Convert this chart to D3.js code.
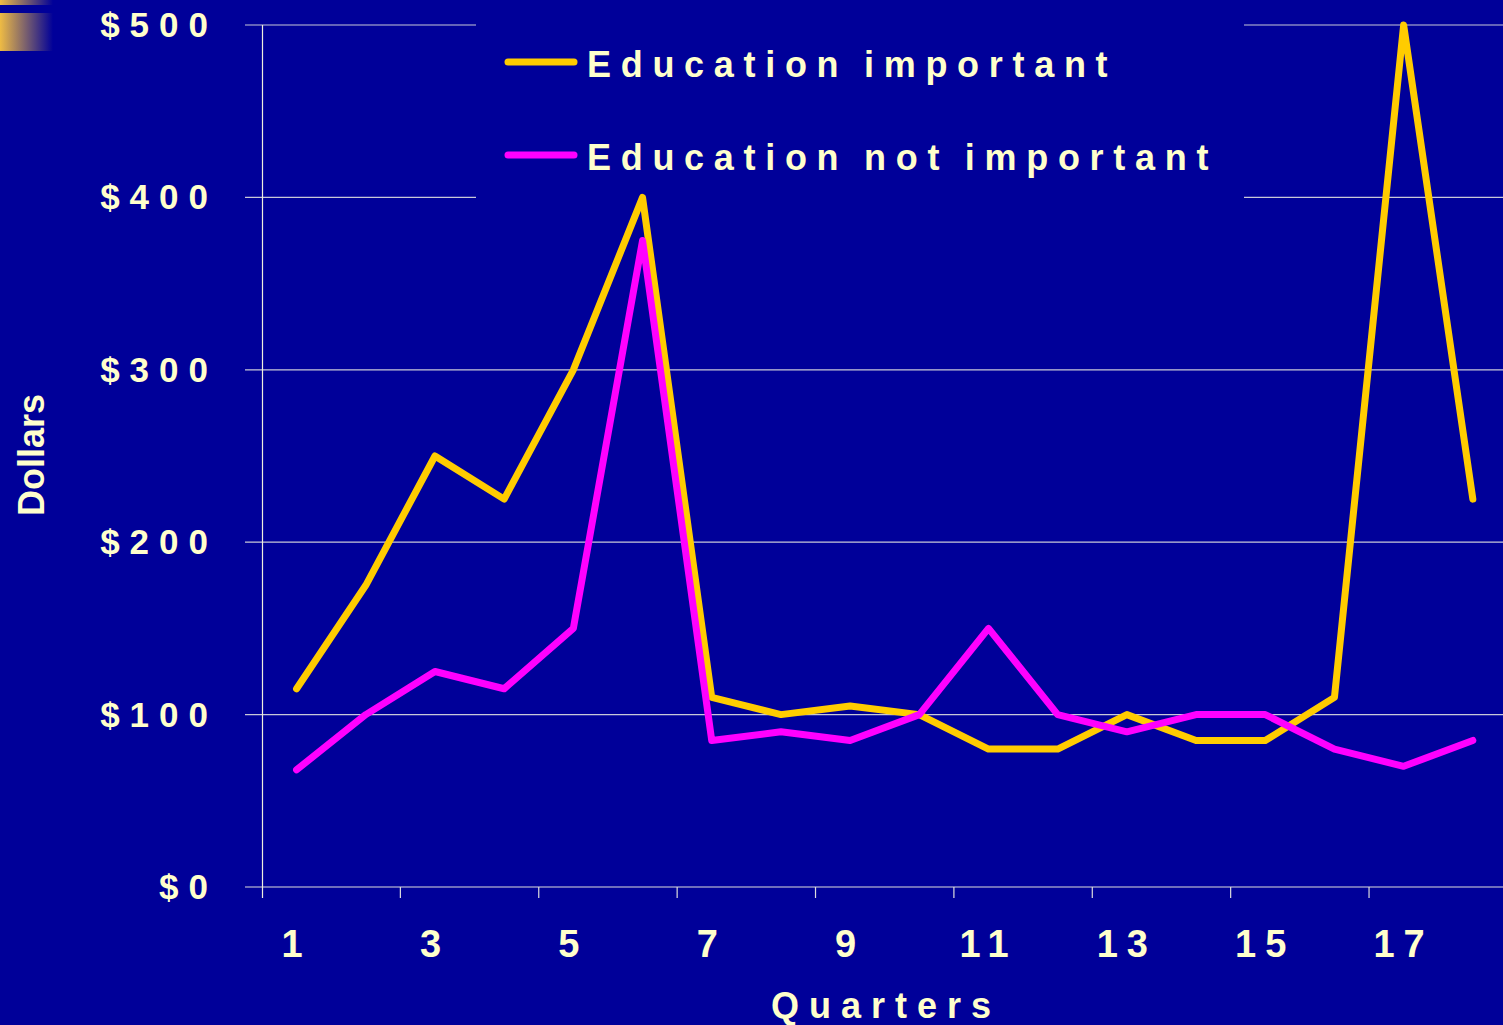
<!DOCTYPE html>
<html>
<head>
    <title>Education spending by quarter</title>
    <script src="https://d3js.org/d3.v7.min.js"></script>
    <style>
        body { margin: 0; background: #000099; overflow: hidden; }
        text { font-family: Arial, "Liberation Sans", sans-serif; font-weight: bold; fill: #FFFFCC; }
    </style>
</head>
<body>
    <script>
    // data
    let quarters = d3.range(1, 19);
    let tickLabels = [1, 3, 5, 7, 9, 11, 13, 15, 17];
    let yTicks = [0, 100, 200, 300, 400, 500];
    let eduImportant = [115, 175, 250, 225, 300, 400, 110, 100, 105, 100, 80, 80, 100, 85, 85, 110, 500, 225];
    let eduNotImportant = [68, 100, 125, 115, 150, 375, 85, 90, 85, 100, 150, 100, 90, 100, 100, 80, 70, 85];
    let seriesNames = ["Education important", "Education not important"];
    let seriesColors = ["#FFCC00", "#FF00FF"];

    let width = 1503,
        height = 1025;

    let svg = d3.select("body")
        .append("svg")
        .attr("width", width)
        .attr("height", height);

    // little gradient decoration in the top-left corner
    let defs = svg.append("defs");
    let grad = defs.append("linearGradient").attr("id", "corner");
    grad.append("stop").attr("offset", "0%").attr("stop-color", "#EEBB44");
    grad.append("stop").attr("offset", "100%").attr("stop-color", "#000099");
    svg.append("rect").attr("x", 0).attr("y", 0).attr("width", 53).attr("height", 5).attr("fill", "url(#corner)");
    svg.append("rect").attr("x", 0).attr("y", 13).attr("width", 53).attr("height", 38).attr("fill", "url(#corner)");

    let x = d3.scaleBand()
        .domain(quarters)
        .range([262, 262 + 18 * 69.19]);

    let y = d3.scaleLinear()
        .domain([0, 500])
        .range([887, 25]);

    // gridlines
    svg.append("g")
        .selectAll("line")
        .data(yTicks)
        .enter()
        .append("line")
        .attr("x1", 245)
        .attr("x2", width)
        .attr("y1", d => y(d))
        .attr("y2", d => y(d))
        .attr("stroke", d => d === 0 ? "#dddddd" : "#c8c8d8")
        .attr("stroke-width", 1.2);

    // y axis line
    svg.append("line")
        .attr("x1", 262.5).attr("x2", 262.5)
        .attr("y1", y(500)).attr("y2", 898)
        .attr("stroke", "#eeeedd")
        .attr("stroke-width", 1.2);

    // x ticks every two quarters
    let tickPos = quarters.filter((q, i) => i % 2 === 0).map(q => x(q));
    svg.append("g")
        .selectAll("line")
        .data(tickPos.slice(1))
        .enter()
        .append("line")
        .attr("x1", d => d)
        .attr("x2", d => d)
        .attr("y1", 887)
        .attr("y2", 898)
        .attr("stroke", "#dddddd")
        .attr("stroke-width", 1.2);

    // y labels
    svg.append("g")
        .selectAll("text")
        .data(yTicks)
        .enter()
        .append("text")
        .attr("x", 218)
        .attr("y", d => y(d) + 12)
        .attr("text-anchor", "end")
        .style("font-size", "35px")
        .style("letter-spacing", "10px")
        .text(d => "$" + d);

    // x labels
    svg.append("g")
        .selectAll("text")
        .data(tickLabels)
        .enter()
        .append("text")
        .attr("x", d => x(d) + x.bandwidth() / 2)
        .attr("y", 957)
        .attr("text-anchor", "middle")
        .style("font-size", "38px")
        .style("letter-spacing", "9px")
        .text(d => d);

    // axis titles
    svg.append("text")
        .attr("x", 886)
        .attr("y", 1018)
        .attr("text-anchor", "middle")
        .style("font-size", "36px")
        .style("letter-spacing", "10px")
        .text("Quarters");

    svg.append("text")
        .attr("transform", "translate(44, 455) rotate(-90)")
        .attr("text-anchor", "middle")
        .style("font-size", "36px")
        .text("Dollars");

    // legend box (hides gridlines behind it)
    svg.append("rect")
        .attr("x", 476)
        .attr("y", 0)
        .attr("width", 768)
        .attr("height", 200)
        .attr("fill", "#000099");

    // lines
    let line = d3.line()
        .x((d, i) => x(quarters[i]) + x.bandwidth() / 2)
        .y(d => y(d));

    [eduImportant, eduNotImportant].forEach(function(values, i) {
        svg.append("path")
            .datum(values)
            .attr("d", line)
            .attr("fill", "none")
            .attr("stroke", seriesColors[i])
            .attr("stroke-width", 7)
            .attr("stroke-linejoin", "round")
            .attr("stroke-linecap", "round");
    });

    // legend entries
    let legend = svg.append("g");
    seriesNames.forEach(function(name, i) {
        let ly = 62 + i * 93;
        legend.append("line")
            .attr("x1", 508).attr("x2", 574)
            .attr("y1", ly).attr("y2", ly)
            .attr("stroke", seriesColors[i])
            .attr("stroke-width", 7)
            .attr("stroke-linecap", "round");
        legend.append("text")
            .attr("x", 587)
            .attr("y", ly + 15)
            .style("font-size", "36px")
            .style("letter-spacing", "9.7px")
            .style("word-spacing", "-4px")
            .text(name);
    });
    </script>
</body>
</html>
